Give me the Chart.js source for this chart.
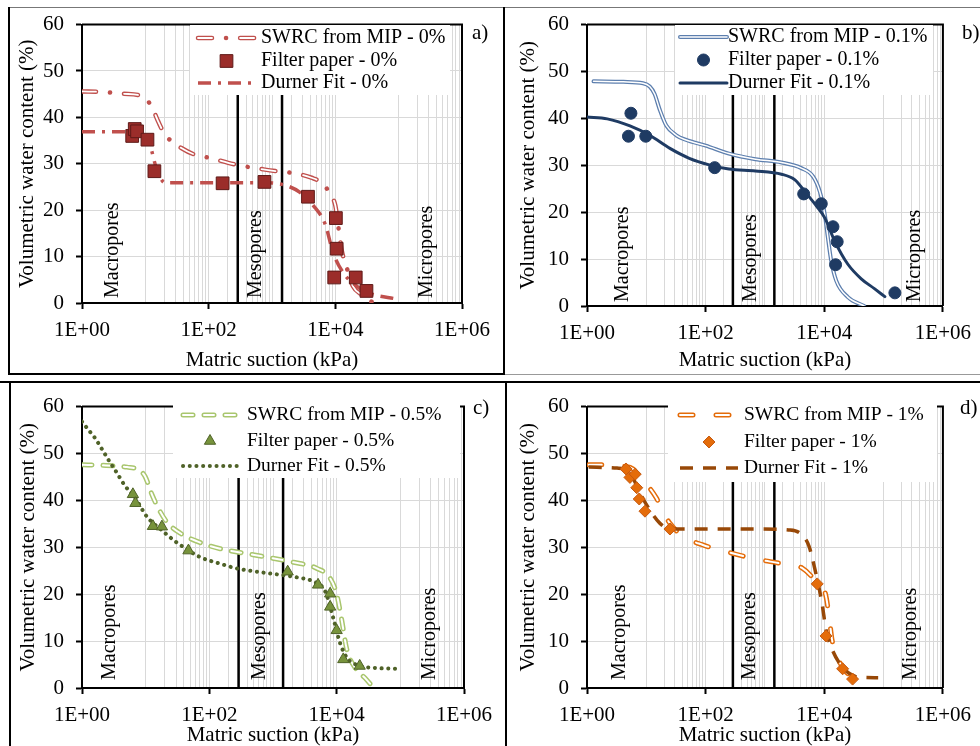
<!DOCTYPE html>
<html>
<head>
<meta charset="utf-8">
<script src="https://cdn.jsdelivr.net/npm/chart.js@4.4.1/dist/chart.umd.min.js"></script>
<style>
  html, body { margin: 0; padding: 0; background: #fff; width: 980px; height: 746px; overflow: hidden; }
  canvas { position: absolute; }
  .ln { position: absolute; background: #000; }
</style>
</head>
<body>
<!-- table frame around the four panels -->
<div class="ln" style="left:8px;top:7px;width:972px;height:1px;background:#777"></div>
<div class="ln" style="left:8px;top:7px;width:2px;height:368px"></div>
<div class="ln" style="left:503px;top:7px;width:2px;height:368px"></div>
<div class="ln" style="left:8px;top:373px;width:497px;height:2px"></div>
<div class="ln" style="left:505px;top:374px;width:475px;height:1px;background:#999"></div>
<div class="ln" style="left:0;top:381px;width:980px;height:2px"></div>
<div class="ln" style="left:9px;top:381px;width:2px;height:365px"></div>
<div class="ln" style="left:505px;top:381px;width:2px;height:365px"></div>

<canvas id="panelA" width="504" height="374" style="left:0;top:0"></canvas>
<canvas id="panelB" width="476" height="374" style="left:504px;top:0"></canvas>
<canvas id="panelC" width="506" height="380" style="left:0;top:382px"></canvas>
<canvas id="panelD" width="474" height="380" style="left:506px;top:382px"></canvas>

<script>
// ---- axes ----
const xMajorTicks = [1, 100, 10000, 1000000];
const xTickLabels = ['1E+00', '1E+02', '1E+04', '1E+06'];
const yTickValues = [0, 10, 20, 30, 40, 50, 60];
const poreNames = ['Macropores', 'Mesopores', 'Micropores'];
const poreLimits = [288, 1440];
const poreLineWater = [0, 60];

// ---- a) 0 % ----
const aMipSuction = [1, 2, 4.5, 8.3, 10.5, 13.4, 16, 20.5, 26, 37, 57, 118, 204, 355, 730, 1180, 1900, 4200, 6500, 8300, 10000, 11200, 12600, 15000, 19000, 26000, 40000];
const aMipWater   = [45.6, 45.5, 45.1, 44.7, 43.9, 41.5, 39.1, 36.2, 34.9, 33.4, 32.1, 31.1, 30.2, 29.5, 28.8, 28.4, 28.1, 27.0, 25.6, 23.4, 21.0, 16.3, 11.4, 7.8, 3.6, 1.8, 0];
const aFpSuction  = [6.2, 6.8, 7.4, 10.8, 13.9, 166, 760, 3700, 10200, 10500, 9600, 21000, 31000];
const aFpWater    = [36.0, 37.5, 37.0, 35.2, 28.4, 25.8, 26.1, 22.9, 18.3, 11.7, 5.5, 5.5, 2.6];
const aFitSuction = [1, 5.1, 8, 11.8, 15, 20.5, 100, 800, 1600, 2800, 4500, 6900, 9300, 13500, 22000, 35000, 93000];
const aFitWater   = [36.9, 36.9, 36.5, 34.0, 29.0, 25.9, 25.9, 25.9, 25.4, 23.8, 21.0, 17.0, 10.7, 6.4, 3.6, 2.1, 0.85];

// ---- b) 0.1 % ----
const bMipSuction = [1.29, 4.1, 8.8, 11.4, 13.8, 16.7, 21.7, 32, 47, 100, 247, 690, 1900, 4100, 6500, 8400, 10200, 11500, 13100, 15900, 25000, 47000];
const bMipWater   = [47.9, 47.8, 47.5, 46.8, 45.2, 42.0, 38.5, 36.4, 35.4, 34.2, 32.5, 31.3, 30.6, 29.4, 27.6, 24.4, 19.5, 14.6, 9.6, 5.4, 1.9, 0];
const bFpSuction  = [5.5, 5.0, 9.8, 142, 4500, 8900, 14000, 16500, 15500, 155000];
const bFpWater    = [41.1, 36.2, 36.2, 29.5, 23.9, 21.8, 16.9, 13.7, 8.8, 2.8];
const bFitSuction = [1, 2.2, 5.3, 11.4, 25, 53, 115, 247, 690, 1900, 3200, 4700, 7400, 10200, 14900, 25000, 42000, 70000, 105000];
const bFitWater   = [40.3, 39.9, 38.4, 36.4, 33.6, 31.5, 30.1, 29.2, 28.8, 28.1, 26.9, 24.4, 21.3, 18.8, 13.9, 8.9, 5.8, 3.7, 2.0];

// ---- c) 0.5 % ----
const cMipSuction = [1, 1.94, 5.1, 7.8, 9.8, 12.5, 16, 21.5, 35, 72, 148, 302, 795, 2100, 4900, 7900, 10000, 12000, 14400, 20000, 28000, 38000];
const cMipWater   = [47.6, 47.5, 47.1, 46.5, 45.1, 41.3, 38.2, 35.4, 33.0, 31.0, 29.7, 28.9, 27.9, 26.8, 25.5, 23.4, 20.0, 14.5, 8.3, 4.1, 2.1, 0];
const cFpSuction  = [6.3, 6.9, 13, 18, 47, 1700, 5100, 7900, 7900, 10000, 12700, 23000];
const cFpWater    = [41.3, 39.4, 34.5, 34.4, 29.3, 24.8, 22.0, 20.1, 17.3, 12.3, 6.1, 4.7];
const cFitSuction = [1, 1.27, 1.6, 2.24, 2.7, 3.3, 4.8, 6.5, 10.5, 17, 31, 72, 148, 270, 710, 2350, 4300, 6600, 8900, 11300, 14400, 22000, 38000, 98000];
const cFitWater   = [56.8, 55.0, 53.3, 50.1, 48.3, 46.5, 43.0, 41.0, 36.5, 33.9, 31.0, 27.9, 26.5, 25.5, 24.6, 23.6, 22.7, 20.6, 14.8, 9.6, 6.5, 4.8, 4.3, 4.1];

// ---- d) 1 % ----
const dMipSuction = [1.07, 2.2, 4.1, 6.0, 7.3, 10, 14.8, 19.2, 25, 42, 90, 250, 700, 1970, 4200, 8100, 10500, 12100, 13500, 16300, 21000, 29000, 33000];
const dMipWater   = [47.6, 47.6, 47.3, 46.7, 45.4, 43.5, 40.5, 37.5, 35.1, 32.3, 30.5, 28.9, 27.5, 26.5, 25.6, 22.0, 20.0, 15.1, 10.3, 6.9, 4.1, 2.4, 1.9];
const dFpSuction  = [4.55, 5.3, 6.5, 6.9, 7.6, 9.5, 25, 7600, 10700, 20400, 30000];
const dFpWater    = [46.7, 44.9, 45.6, 42.7, 40.3, 37.7, 33.9, 22.2, 11.1, 4.1, 1.9];
const dFitSuction = [1.07, 3.2, 4.7, 6.0, 7.8, 11.5, 17, 25, 54, 700, 2500, 4000, 5500, 7100, 9200, 10700, 13500, 20000, 29000, 38000, 81000];
const dFitWater   = [47.1, 46.9, 46.5, 44.7, 41.6, 37.9, 35.1, 33.9, 33.9, 33.9, 33.7, 32.9, 30.3, 24.8, 17.9, 12.4, 8.3, 4.5, 2.8, 2.3, 2.2];

const FONT = '"Liberation Serif", "Times New Roman", serif';
Chart.defaults.font.family = FONT;
Chart.defaults.color = '#000';

// every 1..9 x 10^n position, used for the log gridlines
const minorSteps = [1, 2, 3, 4, 5, 6, 7, 8, 9];
const xGridValues = [];
for (let e = 0; e < 6; e++) minorSteps.forEach(m => xGridValues.push(m * Math.pow(10, e)));
xGridValues.push(1000000);
const decadesWithMinor = [1, 2, 3, 5];

function decadeOf(v) { return Math.floor(Math.log10(v) + 1e-9); }
function isDecade(v) { return Math.abs(v / Math.pow(10, decadeOf(v)) - 1) < 1e-9; }

const gridColorX = (c) => {
  const v = c.tick.value;
  if (isDecade(v) || decadesWithMinor.includes(decadeOf(v))) return '#d9d9d9';
  return 'rgba(0,0,0,0)';
};
const tickColorX = (c) => xMajorTicks.includes(c.tick.value) ? '#000' : 'rgba(0,0,0,0)';

function xy(xs, ys) { return xs.map((x, i) => ({ x: x, y: ys[i] })); }

function drawSample(ctx, d, inner, x0, x1, y) {
  ctx.save();
  if (d.legendKind === 'marker') {
    ctx.fillStyle = d.pointBackgroundColor;
    ctx.strokeStyle = d.pointBorderColor;
    ctx.lineWidth = d.pointBorderWidth;
    Chart.helpers.drawPoint(ctx, { pointStyle: d.pointStyle, radius: d.pointRadius, rotation: 0, borderWidth: d.pointBorderWidth }, (x0 + x1) / 2, y);
  } else {
    ctx.lineCap = d.borderCapStyle || 'butt';
    ctx.setLineDash(d.borderDash || []);
    ctx.strokeStyle = d.borderColor;
    ctx.lineWidth = d.borderWidth;
    ctx.beginPath(); ctx.moveTo(x0, y); ctx.lineTo(x1, y); ctx.stroke();
    if (inner) {
      ctx.setLineDash(inner.borderDash || []);
      ctx.strokeStyle = inner.borderColor; ctx.lineWidth = inner.borderWidth;
      ctx.stroke();
    }
  }
  ctx.restore();
}

const panelDecor = {
  id: 'panelDecor',
  afterDatasetsDraw(chart, args, o) {
    const ctx = chart.ctx, a = chart.chartArea, sx = chart.scales.x, sy = chart.scales.y;
    ctx.save();
    // top and right of the plot frame
    ctx.strokeStyle = '#000'; ctx.lineWidth = 2;
    ctx.beginPath(); ctx.moveTo(a.left, a.top); ctx.lineTo(a.right, a.top); ctx.lineTo(a.right, a.bottom); ctx.stroke();

    // pore class labels
    ctx.fillStyle = '#000'; ctx.font = '20px ' + FONT; ctx.textAlign = 'left'; ctx.textBaseline = 'middle';
    poreNames.forEach((name, i) => {
      ctx.save();
      ctx.translate(sx.getPixelForValue(o.poreLabelAt[i]), sy.getPixelForValue(0) - o.poreLabelLift);
      ctx.rotate(-Math.PI / 2);
      ctx.fillText(name, 0, 0);
      ctx.restore();
    });

    // legend
    const b = o.box;
    ctx.fillStyle = '#fff'; ctx.fillRect(b[0], b[1], b[2] - b[0], b[3] - b[1]);
    const all = chart.data.datasets;
    const inner = all.find(d => d.role === 'inner');
    const entries = all.filter(d => d.legendRow !== undefined).sort((p, q) => p.legendRow - q.legendRow);
    entries.forEach((d, i) => {
      const y = o.rows[i];
      drawSample(ctx, d, d.legendKind === 'outline' ? inner : null, o.sample[0], o.sample[1], y);
      ctx.fillStyle = '#000'; ctx.font = o.legendFont + 'px ' + FONT; ctx.textAlign = 'left'; ctx.textBaseline = 'middle';
      ctx.fillText(d.label, o.textX, y);
    });

    // panel letter
    ctx.font = '21px ' + FONT; ctx.fillStyle = '#000';
    ctx.fillText(o.letter, o.letterPos[0], o.letterPos[1]);
    ctx.restore();
  }
};

function makePanel(id, p) {
  const lineBase = { showLine: true, pointRadius: 0, pointHoverRadius: 0, cubicInterpolationMode: 'monotone' };
  const datasets = [
    { label: p.fpLabel, data: xy(p.fpX, p.fpY), showLine: false, pointStyle: p.marker, pointRadius: p.markerRadius,
      pointBackgroundColor: p.markerFill, pointBorderColor: p.markerEdge, pointBorderWidth: 1, legendRow: 1, legendKind: 'marker' },
    Object.assign({ label: p.fitLabel, data: xy(p.fitX, p.fitY), borderColor: p.fitColor, borderWidth: p.fitWidth,
      borderDash: p.fitDash, borderCapStyle: p.fitCap, legendRow: 2, legendKind: 'line' }, lineBase),
    Object.assign({ label: 'inner', role: 'inner', data: xy(p.mipX, p.mipY), borderColor: '#ffffff', borderWidth: p.mipInner,
      borderDash: p.mipInnerDash, borderCapStyle: 'round' }, lineBase),
    Object.assign({ label: p.mipLabel, data: xy(p.mipX, p.mipY), borderColor: p.mipColor, borderWidth: p.mipOuter,
      borderDash: p.mipDash, borderCapStyle: 'round', legendRow: 0, legendKind: 'outline' }, lineBase)
  ];
  poreLimits.forEach(s => datasets.push(Object.assign({ label: 'limit', data: poreLineWater.map(w => ({ x: s, y: w })),
    borderColor: '#000', borderWidth: 2.5 }, lineBase, { cubicInterpolationMode: 'default' })));

  return new Chart(document.getElementById(id), {
    type: 'scatter',
    data: { datasets },
    options: {
      responsive: false, animation: false, devicePixelRatio: 1,
      layout: { padding: { left: 0, top: p.padTop, right: p.padRight, bottom: 0 } },
      plugins: {
        legend: { display: false }, tooltip: { enabled: false },
        panelDecor: p.decor
      },
      scales: {
        x: {
          type: 'logarithmic', min: 1, max: 1000000,
          afterBuildTicks: (s) => { s.ticks = xGridValues.map(v => ({ value: v })); },
          afterFit: (s) => { s.height = p.xAxisH; },
          ticks: { autoSkip: false, maxRotation: 0, minRotation: 0, padding: 9, font: { size: 21 }, color: '#000',
            callback: (v) => { const i = xMajorTicks.indexOf(v); return i >= 0 ? xTickLabels[i] : ''; } },
          grid: { color: gridColorX, tickColor: tickColorX, tickLength: 6, tickWidth: 2, lineWidth: 1 },
          border: { color: '#000', width: 2 },
          title: { display: true, text: 'Matric suction (kPa)', font: { size: 21 }, color: '#000', padding: { top: 0, bottom: p.xTitlePad } }
        },
        y: {
          min: 0, max: 60,
          afterBuildTicks: (s) => { s.ticks = yTickValues.map(v => ({ value: v })); },
          afterFit: (s) => { s.width = p.yAxisW; },
          ticks: { padding: 12, font: { size: 21 }, color: '#000' },
          grid: { color: '#d9d9d9', tickColor: '#000', tickLength: 6, tickWidth: 2 },
          border: { color: '#000', width: 2 },
          title: { display: true, text: 'Volumetric water content (%)', font: { size: 21 }, color: '#000', padding: { top: p.yTitlePad, bottom: 0 } }
        }
      }
    },
    plugins: [panelDecor]
  });
}

makePanel('panelA', {
  mipX: aMipSuction, mipY: aMipWater, fpX: aFpSuction, fpY: aFpWater, fitX: aFitSuction, fitY: aFitWater,
  mipLabel: 'SWRC from MIP - 0%', fpLabel: 'Filter paper - 0%', fitLabel: 'Durner Fit - 0%',
  mipColor: '#c0504d', mipOuter: 4.5, mipInner: 1.8, mipDash: [14, 14, 0.1, 14], mipInnerDash: [14, 28.1],
  fitColor: '#c0504d', fitWidth: 3.5, fitDash: [13, 7, 3, 7], fitCap: 'butt',
  marker: 'rect', markerRadius: 9, markerFill: '#9b2d2a', markerEdge: '#5e1a18',
  padTop: 22, padRight: 42, yAxisW: 82, xAxisH: 71, yTitlePad: 14.4, xTitlePad: 1.4,
  decor: { poreLabelAt: [3.1, 560, 280000], poreLabelLift: 5, box: [190, 25, 450, 95], sample: [198, 255], textX: 261,
    rows: [38, 61, 83], legendFont: 20, letter: 'a)', letterPos: [472, 33] }
});

makePanel('panelB', {
  mipX: bMipSuction, mipY: bMipWater, fpX: bFpSuction, fpY: bFpWater, fitX: bFitSuction, fitY: bFitWater,
  mipLabel: 'SWRC from MIP - 0.1%', fpLabel: 'Filter paper - 0.1%', fitLabel: 'Durner Fit - 0.1%',
  mipColor: '#5d7fae', mipOuter: 4, mipInner: 1.5, mipDash: [], mipInnerDash: [],
  fitColor: '#1f3b63', fitWidth: 3, fitDash: [], fitCap: 'round',
  marker: 'circle', markerRadius: 6, markerFill: '#1f3b63', markerEdge: '#1f3b63',
  padTop: 22, padRight: 34, yAxisW: 83, xAxisH: 68, yTitlePad: 11.4, xTitlePad: 1.4,
  decor: { poreLabelAt: [4.0, 570, 340000], poreLabelLift: 4, box: [171, 25, 429, 95], sample: [176, 223], textX: 224,
    rows: [37, 60, 83], legendFont: 20, letter: 'b)', letterPos: [458, 33] }
});

makePanel('panelC', {
  mipX: cMipSuction, mipY: cMipWater, fpX: cFpSuction, fpY: cFpWater, fitX: cFitSuction, fitY: cFitWater,
  mipLabel: 'SWRC from MIP - 0.5%', fpLabel: 'Filter paper - 0.5%', fitLabel: 'Durner Fit - 0.5%',
  mipColor: '#a9c66e', mipOuter: 5, mipInner: 2, mipDash: [10, 11], mipInnerDash: [10, 11],
  fitColor: '#4f6228', fitWidth: 4, fitDash: [0.1, 6.6], fitCap: 'round',
  marker: 'triangle', markerRadius: 6.5, markerFill: '#77933c', markerEdge: '#4f6228',
  padTop: 16, padRight: 42, yAxisW: 82, xAxisH: 74, yTitlePad: 15.4, xTitlePad: 14.4,
  decor: { poreLabelAt: [2.75, 630, 290000], poreLabelLift: 8, box: [173, 18, 460, 96], sample: [183, 237], textX: 247,
    rows: [33, 59, 84], legendFont: 19.5, letter: 'c)', letterPos: [473, 26] }
});

makePanel('panelD', {
  mipX: dMipSuction, mipY: dMipWater, fpX: dFpSuction, fpY: dFpWater, fitX: dFitSuction, fitY: dFitWater,
  mipLabel: 'SWRC from MIP - 1%', fpLabel: 'Filter paper - 1%', fitLabel: 'Durner Fit - 1%',
  mipColor: '#e46c0a', mipOuter: 5, mipInner: 2, mipDash: [13, 23], mipInnerDash: [13, 23],
  fitColor: '#984807', fitWidth: 3.5, fitDash: [13, 10], fitCap: 'butt',
  marker: 'rectRot', markerRadius: 6, markerFill: '#e46c0a', markerEdge: '#c55a11',
  padTop: 16, padRight: 35, yAxisW: 81, xAxisH: 74, yTitlePad: 9.4, xTitlePad: 14.4,
  decor: { poreLabelAt: [3.6, 560, 290000], poreLabelLift: 8, box: [162, 18, 431, 100], sample: [174, 232], textX: 238,
    rows: [33, 60, 86], legendFont: 19.5, letter: 'd)', letterPos: [454, 26] }
});
</script>
</body>
</html>
